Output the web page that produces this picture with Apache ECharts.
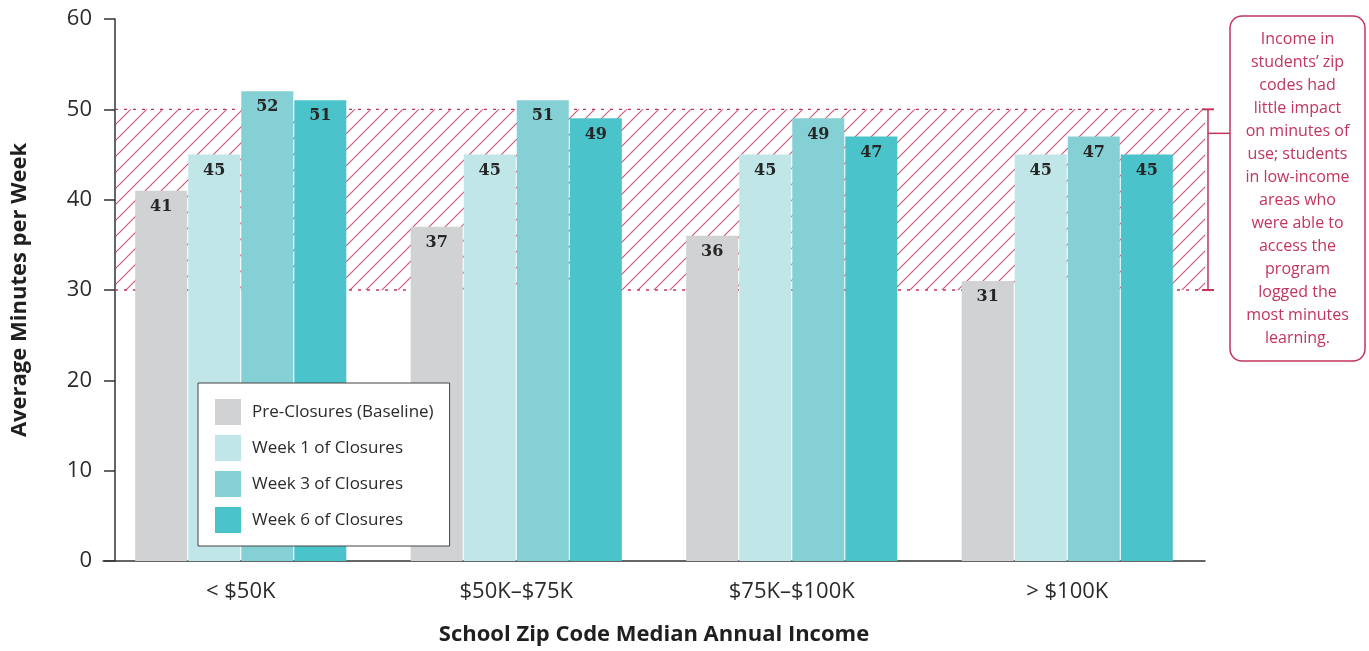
<!DOCTYPE html>
<html>
<head>
<meta charset="utf-8">
<script src="https://cdn.jsdelivr.net/npm/echarts@6/dist/echarts.min.js"></script>
<style>
html,body{margin:0;padding:0;background:#fff;}
#c{width:1369px;height:651px;}
</style>
</head>
<body>
<div id="c"></div>
<script>
const categories = ['< $50K', '$50K\u2013$75K', '$75K\u2013$100K', '> $100K'];
const seriesNames = ['Pre-Closures (Baseline)', 'Week 1 of Closures', 'Week 3 of Closures', 'Week 6 of Closures'];
const preClosures = [41, 37, 36, 31];
const week1 = [45, 45, 45, 45];
const week3 = [52, 51, 49, 47];
const week6 = [51, 49, 47, 45];
const yTicks = [0, 10, 20, 30, 40, 50, 60];
const bandLow = 30;
const bandHigh = 50;
const noteText = "Income in\nstudents\u2019 zip\ncodes had\nlittle impact\non minutes of\nuse; students\nin low-income\nareas who\nwere able to\naccess the\nprogram\nlogged the\nmost minutes\nlearning.";

const colors = ['#d1d2d4', '#c0e6e8', '#84d0d5', '#4bc3ca'];
const pink = '#c2355d';
const sans = '"Open Sans", "Noto Sans", sans-serif';

const chart = echarts.init(document.getElementById('c'));

const GRID_LEFT = 103, GRID_RIGHT = 164, GRID_TOP = 19, GRID_BOTTOM = 90;

const valueLabel = {
  show: true, position: 'insideTop', distance: 8,
  fontFamily: '"DejaVu Serif", serif', fontWeight: 'bold', fontSize: 16, color: '#262626'
};

const dataSets = [preClosures, week1, week3, week6];
const series = dataSets.map((d, i) => ({
  name: seriesNames[i], type: 'bar', data: d, barWidth: 52, barGap: '2%',
  itemStyle: { color: colors[i] }, label: valueLabel, z: 3
}));

chart.setOption({
  animation: false,
  backgroundColor: '#fff',
  grid: { left: GRID_LEFT, right: GRID_RIGHT, top: GRID_TOP, bottom: GRID_BOTTOM, containLabel: false },
  legend: {
    orient: 'vertical', left: 198, top: 383,
    data: seriesNames,
    backgroundColor: '#fff', borderColor: '#444', borderWidth: 1,
    padding: [16, 16, 13, 17], itemWidth: 26, itemHeight: 26, itemGap: 10,
    icon: 'rect', z: 10,
    textStyle: { fontFamily: sans, fontSize: 17, color: '#2b2b2b', padding: [0, 0, 0, 6] }
  },
  xAxis: {
    type: 'category', data: categories,
    axisLine: { lineStyle: { color: '#333', width: 1.5 } },
    axisTick: { show: false },
    axisLabel: { fontFamily: sans, fontSize: 22, color: '#2b2b2b', margin: 20 },
    name: 'School Zip Code Median Annual Income', nameLocation: 'middle', nameGap: 63,
    nameTextStyle: { fontFamily: sans, fontWeight: 'bold', fontSize: 22, color: '#1f1f1f' }
  },
  yAxis: {
    type: 'value', min: yTicks[0], max: yTicks[yTicks.length - 1], interval: 10,
    offset: -12,
    axisLine: { show: true, lineStyle: { color: '#333', width: 1.5 } },
    axisTick: { show: true, length: 11, lineStyle: { color: '#333', width: 1.5 } },
    splitLine: { show: false },
    axisLabel: { fontFamily: sans, fontSize: 22, color: '#2b2b2b', margin: 23 },
    name: 'Average Minutes per Week', nameLocation: 'middle', nameGap: 84, nameRotate: 90,
    nameTextStyle: { fontFamily: sans, fontWeight: 'bold', fontSize: 22, color: '#1f1f1f' }
  },
  series: series
});

// hatch pattern
const pc = document.createElement('canvas');
pc.width = 16; pc.height = 16;
const ctx = pc.getContext('2d');
ctx.strokeStyle = 'rgba(194,53,93,0.85)';
ctx.lineWidth = 1.1;
ctx.beginPath();
ctx.moveTo(-2, 18); ctx.lineTo(18, -2);
ctx.moveTo(-2, 2); ctx.lineTo(2, -2);
ctx.moveTo(14, 18); ctx.lineTo(18, 14);
ctx.stroke();

const yHigh = chart.convertToPixel({ yAxisIndex: 0 }, bandHigh);
const yLow = chart.convertToPixel({ yAxisIndex: 0 }, bandLow);
const xStart = GRID_LEFT + 12;
const xEnd = 1369 - GRID_RIGHT;
const bx = xEnd + 3;
const connY = yHigh + 24;
const boxX = 1230, boxY = 16, boxW = 135, boxH = 345;

chart.setOption({
  graphic: [
    { type: 'rect', z: 1, silent: true,
      shape: { x: xStart, y: yHigh, width: xEnd - xStart, height: yLow - yHigh },
      style: { fill: { image: pc, repeat: 'repeat' } } },
    { type: 'line', z: 1, shape: { x1: xStart, y1: yHigh, x2: xEnd, y2: yHigh },
      style: { stroke: pink, lineWidth: 1.3, lineDash: [3, 6] } },
    { type: 'line', z: 1, shape: { x1: xStart, y1: yLow, x2: xEnd, y2: yLow },
      style: { stroke: pink, lineWidth: 1.3, lineDash: [3, 6] } },
    { type: 'line', z: 5, shape: { x1: bx, y1: yHigh, x2: bx, y2: yLow },
      style: { stroke: pink, lineWidth: 1.5 } },
    { type: 'line', z: 5, shape: { x1: bx - 6, y1: yHigh, x2: bx + 6, y2: yHigh },
      style: { stroke: pink, lineWidth: 2 } },
    { type: 'line', z: 5, shape: { x1: bx - 6, y1: yLow, x2: bx + 6, y2: yLow },
      style: { stroke: pink, lineWidth: 2 } },
    { type: 'line', z: 5, shape: { x1: bx, y1: connY, x2: boxX, y2: connY },
      style: { stroke: pink, lineWidth: 1.5 } },
    { type: 'rect', z: 5, shape: { x: boxX, y: boxY, width: boxW, height: boxH, r: 12 },
      style: { fill: '#fff', stroke: pink, lineWidth: 1.5 } },
    { type: 'text', z: 6, x: boxX + boxW / 2, y: boxY + 12,
      style: { text: noteText, fill: pink, font: '16px ' + sans, align: 'center',
               verticalAlign: 'top', lineHeight: 23 } }
  ]
});
</script>
</body>
</html>
